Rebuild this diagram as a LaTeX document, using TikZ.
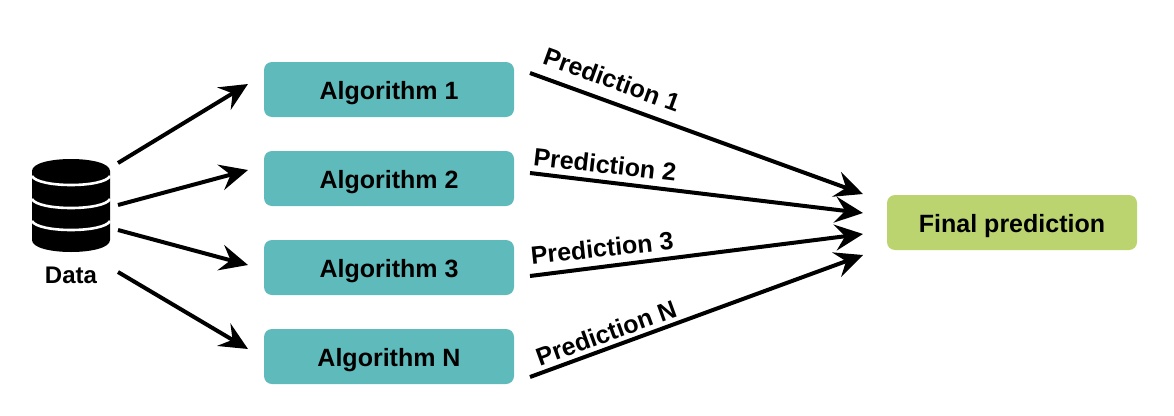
\documentclass[tikz,border=0pt]{standalone}
\usepackage{fontspec}
\setmainfont{Liberation Sans}
\usetikzlibrary{arrows.meta}
\definecolor{algoteal}{HTML}{5FBBBB}
\definecolor{finalgreen}{HTML}{BBD46F}
\tikzset{
  algobox/.style={fill=algoteal,rounded corners=8pt,minimum width=250pt,minimum height=55pt,inner sep=0pt,text height=19pt,text depth=0pt,font=\fontsize{25}{30}\selectfont\bfseries},
  finalbox/.style={algobox,fill=finalgreen},
  arrowline/.style={line width=4pt,-{Stealth[length=28pt,width=26pt,inset=10pt]}},
  predlabel/.style={font=\fontsize{25}{30}\selectfont\bfseries,inner sep=0pt},
  datalabel/.style={font=\fontsize{24}{29}\selectfont\bfseries,inner sep=0pt},
  band/.style={draw=white,line width=2.6pt}
}
\begin{document}
\begin{tikzpicture}[x=1pt,y=-1pt]
\useasboundingbox (0,0) rectangle (1174,415);
% database icon
\fill[black] (32,171) .. controls (32,155) and (110,155) .. (110,171)
  -- (110,240) .. controls (110,256) and (32,256) .. (32,240) -- cycle;
\draw[band] (32,176) .. controls (38,188) and (104,188) .. (110,176);
\draw[band] (32,199) .. controls (38,211) and (104,211) .. (110,199);
\draw[band] (32,221) .. controls (38,233) and (104,233) .. (110,221);
\node[datalabel] (data) at (71,275) {Data};
% boxes
\node[algobox] (a1) at (389,89.5) {Algorithm 1};
\node[algobox] (a2) at (389,178.5) {Algorithm 2};
\node[algobox] (a3) at (389,267.5) {Algorithm 3};
\node[algobox] (a4) at (389,356.5) {Algorithm N};
\node[finalbox] (final) at (1012,222.5) {Final prediction};
% connector end points
\coordinate (d1) at (118,163); \coordinate (t1) at (248,84);
\coordinate (d2) at (118,205); \coordinate (t2) at (248,170);
\coordinate (d3) at (118,230); \coordinate (t3) at (248,265);
\coordinate (d4) at (118,272); \coordinate (t4) at (248,349);
\coordinate (p1) at (530,73);  \coordinate (f1) at (863,194);
\coordinate (p2) at (530,173); \coordinate (f2) at (863,213);
\coordinate (p3) at (530,276); \coordinate (f3) at (863,234);
\coordinate (p4) at (530,377); \coordinate (f4) at (863,255);
\draw[arrowline] (d1) -- (t1);
\draw[arrowline] (d2) -- (t2);
\draw[arrowline] (d3) -- (t3);
\draw[arrowline] (d4) -- (t4);
\draw[arrowline] (p1) -- (f1);
\draw[arrowline] (p2) -- (f2);
\draw[arrowline] (p3) -- (f3);
\draw[arrowline] (p4) -- (f4);
% labels
\node[predlabel,rotate=-20] (l1) at (612,79.5) {Prediction 1};
\node[predlabel,rotate=-6.5] (l2) at (605,164.5) {Prediction 2};
\node[predlabel,rotate=6] (l3) at (602,248) {Prediction 3};
\node[predlabel,rotate=20] (l4) at (606,333) {Prediction N};
\end{tikzpicture}
\end{document}
